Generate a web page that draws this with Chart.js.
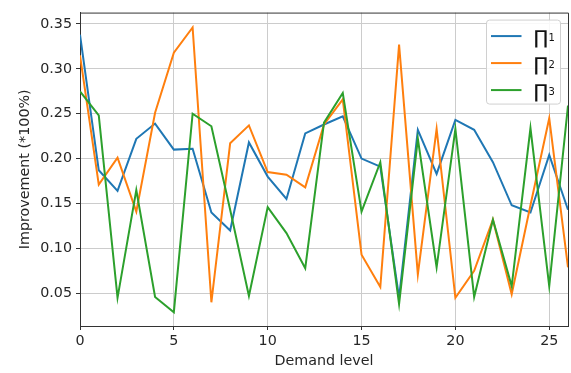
<!DOCTYPE html>
<html>
<head>
<meta charset="utf-8">
<script src="https://cdn.jsdelivr.net/npm/chart.js@4/dist/chart.umd.min.js"></script>
<style>
  html, body { margin: 0; padding: 0; background: #ffffff; }
  #wrap { width: 571px; height: 373px; }
</style>
</head>
<body>
<div id="wrap"><canvas id="c" width="571" height="373"></canvas></div>
<script>
// ---- data ----
const demandLevels = [0,1,2,3,4,5,6,7,8,9,10,11,12,13,14,15,16,17,18,19,20,21,22,23,24,25,26];
const pi1 = [0.338,0.187,0.164,0.222,0.239,0.210,0.211,0.140,0.120,0.218,0.180,0.155,0.228,0.238,0.247,0.200,0.191,0.045,0.232,0.183,0.243,0.232,0.196,0.148,0.140,0.204,0.143];
const pi2 = [0.315,0.171,0.201,0.141,0.251,0.318,0.346,0.040,0.217,0.237,0.185,0.182,0.168,0.238,0.266,0.093,0.057,0.327,0.071,0.233,0.045,0.075,0.132,0.049,0.148,0.245,0.079];
const pi3 = [0.275,0.248,0.045,0.165,0.046,0.029,0.250,0.236,0.143,0.047,0.146,0.117,0.078,0.240,0.273,0.141,0.196,0.038,0.222,0.079,0.233,0.046,0.132,0.058,0.234,0.058,0.259];
const seriesLabels = ['Π1', 'Π2', 'Π3'];
const seriesSubs = ['1', '2', '3'];
const xTicks = [0, 5, 10, 15, 20, 25];
const yTicks = [0.05, 0.10, 0.15, 0.20, 0.25, 0.30, 0.35];

const colors = ['#1f77b4', '#ff7f0e', '#2ca02c'];
const FONT = 'DejaVu Sans';
const TXT = '#262626';

function pts(arr) { return demandLevels.map((x, i) => ({ x: x, y: arr[i] })); }

const framePlugin = {
  id: 'frameLegend',
  afterDraw(chart) {
    const ctx = chart.ctx;
    const a = chart.chartArea;
    ctx.save();
    // top & right frame
    ctx.strokeStyle = '#333333';
    ctx.lineWidth = 1;
    ctx.beginPath();
    ctx.moveTo(a.left, a.top + 0.5);
    ctx.lineTo(a.right + 0.5, a.top + 0.5);
    ctx.lineTo(a.right + 0.5, a.bottom);
    ctx.stroke();

    // legend box
    const bw = 74, bh = 84;
    const bx = a.right - 7.5 - bw, by = a.top + 7.5;
    const r = 3;
    ctx.beginPath();
    ctx.moveTo(bx + r, by);
    ctx.lineTo(bx + bw - r, by);
    ctx.arcTo(bx + bw, by, bx + bw, by + r, r);
    ctx.lineTo(bx + bw, by + bh - r);
    ctx.arcTo(bx + bw, by + bh, bx + bw - r, by + bh, r);
    ctx.lineTo(bx + r, by + bh);
    ctx.arcTo(bx, by + bh, bx, by + bh - r, r);
    ctx.lineTo(bx, by + r);
    ctx.arcTo(bx, by, bx + r, by, r);
    ctx.closePath();
    ctx.fillStyle = 'rgba(255,255,255,0.85)';
    ctx.fill();
    ctx.strokeStyle = '#d0d0d0';
    ctx.lineWidth = 1;
    ctx.stroke();

    chart.data.datasets.forEach((ds, i) => {
      const ly = by + 16 + i * 27;
      ctx.strokeStyle = ds.borderColor;
      ctx.lineWidth = 2;
      ctx.beginPath();
      ctx.moveTo(bx + 4.5, ly);
      ctx.lineTo(bx + 35, ly);
      ctx.stroke();
      ctx.fillStyle = '#111111';
      ctx.textBaseline = 'alphabetic';
      ctx.textAlign = 'left';
      ctx.font = '19px "' + FONT + '"';
      ctx.fillText('∏', bx + 47, ly + 8);
      const w = ctx.measureText('∏').width;
      ctx.font = '10px "' + FONT + '"';
      ctx.fillText(seriesSubs[i], bx + 47 + w + 0.5, ly + 5);
    });
    ctx.restore();
  }
};

new Chart(document.getElementById('c'), {
  type: 'line',
  data: {
    datasets: [
      { label: seriesLabels[0], data: pts(pi1), borderColor: colors[0], backgroundColor: colors[0], borderWidth: 2, pointRadius: 0, tension: 0, order: 3 },
      { label: seriesLabels[1], data: pts(pi2), borderColor: colors[1], backgroundColor: colors[1], borderWidth: 2, pointRadius: 0, tension: 0, order: 2 },
      { label: seriesLabels[2], data: pts(pi3), borderColor: colors[2], backgroundColor: colors[2], borderWidth: 2, pointRadius: 0, tension: 0, order: 1 }
    ]
  },
  options: {
    responsive: false,
    animation: false,
    devicePixelRatio: 1,
    layout: { padding: { left: 0, right: 3, top: 9, bottom: 0 } },
    plugins: { legend: { display: false }, tooltip: { enabled: false } },
    scales: {
      x: {
        type: 'linear',
        min: 0, max: 26,
        afterBuildTicks: s => { s.ticks = xTicks.map(v => ({ value: v })); },
        afterFit: s => { s.height = 47; },
        grid: { color: '#cccccc', lineWidth: 1, tickColor: '#333333', tickLength: 4, drawTicks: true },
        border: { color: '#333333', width: 1 },
        ticks: { font: { family: FONT, size: 14.3 }, color: TXT, padding: 3, maxRotation: 0, callback: v => String(v) },
        title: { display: true, text: 'Demand level', font: { family: FONT, size: 14.3 }, color: TXT, padding: { top: 0, bottom: 3 } }
      },
      y: {
        type: 'linear',
        min: 0.0136, max: 0.3626,
        afterBuildTicks: s => { s.ticks = yTicks.map(v => ({ value: v })); },
        afterFit: s => { s.width = 80; },
        grid: { color: '#cccccc', lineWidth: 1, tickColor: '#333333', tickLength: 4, drawTicks: true },
        border: { color: '#333333', width: 1 },
        ticks: { font: { family: FONT, size: 14.3 }, color: TXT, padding: 4, callback: v => Number(v).toFixed(2) },
        title: { display: true, text: 'Improvement (*100%)', font: { family: FONT, size: 14.3 }, color: TXT, padding: { top: 17, bottom: 0 } }
      }
    }
  },
  plugins: [framePlugin]
});
</script>
</body>
</html>
